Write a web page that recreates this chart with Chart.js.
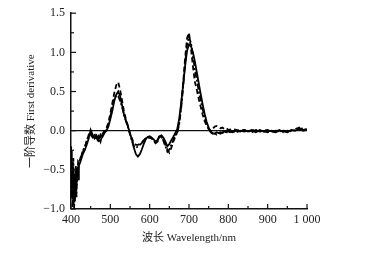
<!DOCTYPE html>
<html>
<head>
<meta charset="utf-8">
<script src="https://cdn.jsdelivr.net/npm/chart.js@4/dist/chart.umd.min.js"></script>
<style>
html,body{margin:0;padding:0;background:#fff;}
#wrap{width:378px;height:254px;position:relative;}
</style>
</head>
<body>
<div id="wrap"><canvas id="c" width="378" height="254"></canvas></div>
<script>
const wavelengths = [400,402,404,406,408,410,412,414,416,418,420,
425,430,435,440,445,450,455,460,465,470,475,480,485,490,495,500,505,510,515,520,525,530,535,540,545,550,555,560,565,570,575,580,585,590,595,600,605,610,615,620,625,630,635,640,645,650,655,660,665,670,675,680,685,690,695,700,705,710,715,720,725,730,735,740,745,750,755,760,765,770,775,780,785,790,795,800,
810,820,830,840,850,860,870,880,890,900,910,920,930,940,950,960,970,980,990,1000];

const seriesSolid = [-0.25,-0.85,-0.40,-0.95,-0.55,-0.90,-0.45,-0.70,-0.50,-0.62,-0.45,
-0.38,-0.30,-0.25,-0.18,-0.10,0.01,-0.05,-0.10,-0.06,-0.12,-0.05,-0.08,-0.03,0.00,0.05,0.15,0.25,0.38,0.46,0.50,0.44,0.32,0.20,0.12,0.05,-0.03,-0.12,-0.22,-0.30,-0.33,-0.30,-0.24,-0.17,-0.11,-0.08,-0.08,-0.09,-0.11,-0.14,-0.12,-0.07,-0.06,-0.09,-0.14,-0.20,-0.17,-0.12,-0.08,-0.03,0.02,0.15,0.35,0.58,0.82,1.02,1.10,1.08,1.00,0.88,0.74,0.60,0.46,0.33,0.21,0.11,0.04,-0.01,-0.03,-0.04,-0.02,-0.03,-0.02,-0.03,-0.01,-0.02,-0.01,
-0.02,0.00,-0.01,0.01,-0.01,0.00,-0.02,0.01,-0.01,0.00,-0.01,-0.02,0.00,-0.01,-0.02,0.01,0.00,0.03,0.01,0.02];

const seriesDashed = [-0.30,-0.70,-0.98,-0.50,-0.85,-0.60,-0.80,-0.48,-0.65,-0.40,-0.42,
-0.33,-0.28,-0.20,-0.15,-0.05,-0.02,-0.08,-0.04,-0.12,-0.07,-0.14,-0.04,0.00,0.03,0.10,0.22,0.35,0.48,0.58,0.62,0.52,0.38,0.24,0.14,0.06,-0.04,-0.10,-0.16,-0.18,-0.18,-0.17,-0.15,-0.12,-0.10,-0.09,-0.09,-0.10,-0.13,-0.16,-0.14,-0.08,-0.08,-0.12,-0.18,-0.24,-0.28,-0.22,-0.14,-0.08,-0.02,0.10,0.32,0.60,0.92,1.18,1.25,1.05,0.82,0.62,0.52,0.40,0.30,0.20,0.12,0.06,0.02,0.00,0.02,0.05,0.06,0.05,0.03,0.04,0.02,0.03,0.01,
0.02,0.01,0.00,0.01,-0.01,0.01,0.00,-0.01,0.00,0.01,-0.02,0.00,-0.01,0.00,-0.01,0.00,0.02,0.04,0.00,0.01];

const seriesDashDot = [-0.20,-0.60,-0.75,-0.35,-1.00,-0.70,-0.55,-0.85,-0.45,-0.55,-0.40,
-0.35,-0.25,-0.22,-0.12,-0.06,-0.04,-0.10,-0.06,-0.09,-0.15,-0.08,-0.06,-0.02,0.02,0.08,0.18,0.30,0.40,0.45,0.44,0.38,0.30,0.20,0.12,0.04,-0.05,-0.13,-0.20,-0.22,-0.20,-0.18,-0.16,-0.13,-0.10,-0.08,-0.07,-0.09,-0.12,-0.15,-0.13,-0.06,-0.07,-0.13,-0.20,-0.27,-0.24,-0.18,-0.12,-0.06,-0.03,0.08,0.28,0.55,0.85,1.10,1.20,1.12,0.95,0.78,0.64,0.50,0.38,0.27,0.17,0.09,0.03,-0.02,-0.04,-0.03,-0.05,-0.03,-0.04,-0.02,-0.03,-0.01,-0.02,
-0.01,-0.02,0.00,-0.01,0.00,-0.02,0.01,0.00,-0.01,-0.02,0.00,-0.01,0.01,-0.02,0.00,-0.01,0.01,0.02,0.03,0.00];

const xTickLabels = {400:'400',500:'500',600:'600',700:'700',800:'800',900:'900',1000:'1 000'};
const yTickLabels = {'-1':'\u22121.0','-0.5':'\u22120.5','0':'0.0','0.5':'0.5','1':'1.0','1.5':'1.5'};

const toPts = (vals) => vals.map((v,i)=>({x:wavelengths[i], y:v}));

const innerTicks = {
  id:'innerTicks',
  afterDraw(chart){
    const ctx = chart.ctx;
    ctx.save();
    ctx.strokeStyle = '#111';
    ctx.lineWidth = 1.2;
    const xs = chart.scales.x, ys = chart.scales.y;
    xs.ticks.forEach(t=>{
      const px = xs.getPixelForValue(t.value);
      const len = xTickLabels[t.value] ? 5 : 3;
      ctx.beginPath(); ctx.moveTo(px, xs.top); ctx.lineTo(px, xs.top-len); ctx.stroke();
    });
    ys.ticks.forEach(t=>{
      const py = ys.getPixelForValue(t.value);
      const len = yTickLabels[String(t.value)] ? 5 : 3;
      ctx.beginPath(); ctx.moveTo(ys.right, py); ctx.lineTo(ys.right+len, py); ctx.stroke();
    });
    ctx.restore();
  }
};

const common = {fill:false, borderColor:'#000', pointRadius:0, borderWidth:1.8, tension:0};

new Chart(document.getElementById('c'), {
  type:'line',
  data:{datasets:[
    Object.assign({label:'A', data:toPts(seriesSolid)}, common),
    Object.assign({label:'B', data:toPts(seriesDashed), borderDash:[5,3]}, common),
    Object.assign({label:'C', data:toPts(seriesDashDot), borderDash:[6,2,2,2]}, common)
  ]},
  options:{
    responsive:false, animation:false,
    layout:{padding:{left:0, top:12, right:71, bottom:0}},
    plugins:{legend:{display:false}, tooltip:{enabled:false}},
    scales:{
      x:{type:'linear', min:400, max:1000,
        afterFit:s=>{s.height=45;},
        border:{display:true, color:'#111', width:1.5},
        grid:{display:true, drawOnChartArea:false, drawTicks:false, color:'rgba(0,0,0,0)'},
        ticks:{stepSize:50, autoSkip:false, maxRotation:0, padding:4, color:'#222',
          font:{family:'"Liberation Serif", serif', size:12},
          callback:v=>xTickLabels[v]||''},
        title:{display:true, text:'波长 Wavelength/nm', color:'#222',
          font:{family:'"Liberation Serif","Noto Sans CJK SC", serif', size:11},
          padding:{top:0,bottom:9}}
      },
      y:{type:'linear', min:-1, max:1.5,
        afterFit:s=>{s.width=71;},
        border:{display:true, color:'#111', width:1.5},
        grid:{display:true, drawTicks:false,
          color:c=> (c.tick && c.tick.value===0) ? '#111' : 'rgba(0,0,0,0)',
          lineWidth:c=> (c.tick && c.tick.value===0) ? 1.2 : 0},
        ticks:{stepSize:0.25, autoSkip:false, padding:6, color:'#222',
          font:{family:'"Liberation Serif", serif', size:12},
          callback:v=>yTickLabels[String(v)]||''},
        title:{display:true, text:'一阶导数 First derivative', color:'#222',
          font:{family:'"Liberation Serif","Noto Sans CJK SC", serif', size:11},
          padding:{top:25,bottom:0}}
      }
    }
  },
  plugins:[innerTicks]
});
</script>
</body>
</html>
